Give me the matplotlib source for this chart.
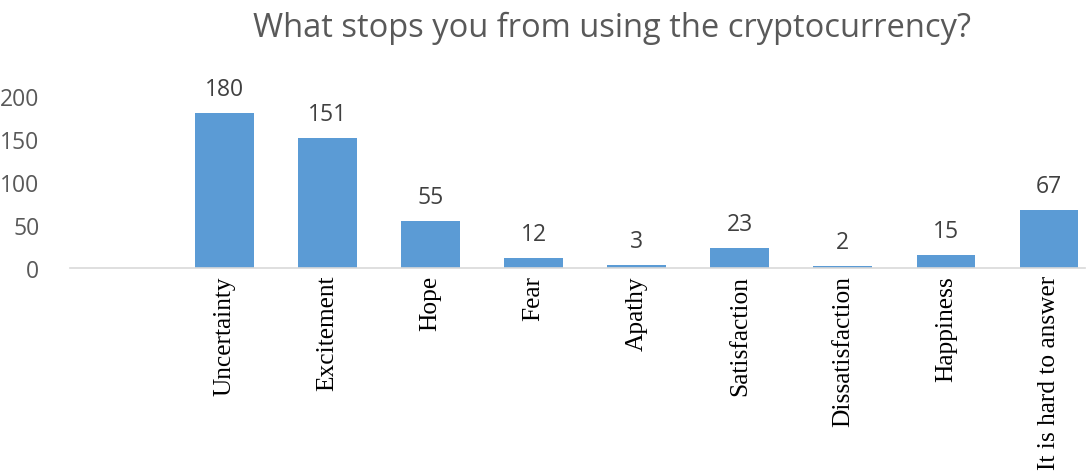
import numpy as np
import matplotlib
matplotlib.use("Agg")
import matplotlib.pyplot as plt

categories = ["", "Uncertainty", "Excitement", "Hope", "Fear", "Apathy",
              "Satisfaction", "Dissatisfaction", "Happiness", "It is hard to answer"]
counts = [0, 180, 151, 55, 12, 3, 23, 2, 15, 67]
yticks = [0, 50, 100, 150, 200]

fig = plt.figure(figsize=(10.88, 4.77), dpi=100)
ax = fig.add_axes([70 / 1088, 208 / 477, 1015 / 1088, 172 / 477])

x = np.arange(len(categories))
shown = x[1:]
vals = counts[1:]
ax.bar(shown, vals, width=0.57, color="#5B9BD5", zorder=2)
for xi, v in zip(shown, vals):
    ax.text(xi, v + 28, str(v), ha="center", va="center", fontsize=16.5,
            family="Open Sans", color="#404040")

ax.set_xlim(-0.5, 9.35)
ax.set_ylim(0, 200)
ax.set_xticks(x)
ax.set_xticklabels(categories, rotation=90, family="Liberation Serif",
                   fontsize=18.3, color="black")
ax.set_yticks(yticks)
ax.set_yticklabels([str(t) for t in yticks], family="Open Sans", fontsize=16.5,
                   color="#595959")
ax.tick_params(axis="both", length=0)
ax.tick_params(axis="y", pad=22)
ax.tick_params(axis="x", pad=5)
for s in ["top", "right", "left"]:
    ax.spines[s].set_visible(False)
ax.spines["bottom"].set_color("#D9D9D9")
ax.spines["bottom"].set_linewidth(1.2)

fig.text(0.5625, 0.94, "What stops you from using the cryptocurrency?",
         ha="center", va="center", fontsize=23.5, family="Open Sans",
         color="#595959")

fig.savefig("out.png", dpi=100)
